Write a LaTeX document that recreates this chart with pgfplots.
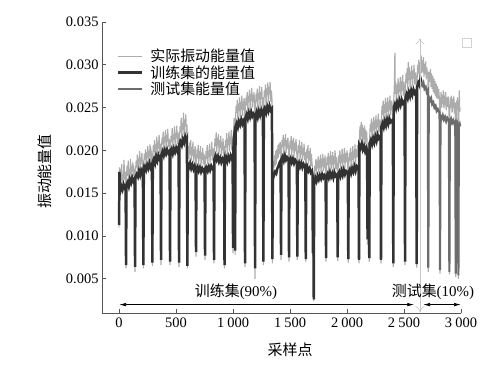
\documentclass[border=0pt]{standalone}
\usepackage{pgfplots}
\pgfplotsset{compat=1.18}
\usepackage{pgfplotstable}
\usetikzlibrary{arrows.meta}
\usepackage{fontspec}
\setmainfont{Liberation Serif}
\newfontfamily\cjk{Noto Sans CJK SC}
\definecolor{actualc}{RGB}{172,172,172}
\definecolor{trainc}{RGB}{50,50,50}
\definecolor{testc}{RGB}{108,108,108}
\definecolor{axc}{RGB}{85,85,85}

\pgfplotstableread{
x y
0 0.0110
3 0.0180
8 0.0160
13 0.0178
18 0.0165
23 0.0184
28 0.0158
33 0.0172
38 0.0163
43 0.0189
48 0.0166
53 0.0175
57 0.0170
61 0.0062
65 0.0168
70 0.0182
75 0.0170
80 0.0188
85 0.0163
90 0.0178
95 0.0172
100 0.0190
105 0.0168
110 0.0181
115 0.0175
120 0.0186
125 0.0170
131 0.0178
136 0.0174
140 0.0058
144 0.0176
150 0.0188
155 0.0180
160 0.0195
165 0.0174
170 0.0190
175 0.0184
180 0.0199
185 0.0178
190 0.0192
195 0.0186
200 0.0197
205 0.0180
209 0.0188
213 0.0062
217 0.0186
222 0.0196
227 0.0189
232 0.0201
237 0.0183
242 0.0198
247 0.0191
252 0.0205
257 0.0186
262 0.0199
267 0.0193
272 0.0207
277 0.0187
283 0.0197
288 0.0192
292 0.0065
296 0.0194
301 0.0206
306 0.0198
311 0.0212
316 0.0190
321 0.0207
326 0.0201
331 0.0216
336 0.0195
341 0.0209
346 0.0203
351 0.0218
356 0.0197
360 0.0208
364 0.0200
368 0.0066
372 0.0203
377 0.0215
382 0.0207
387 0.0222
392 0.0200
397 0.0216
402 0.0209
407 0.0224
412 0.0203
417 0.0218
422 0.0210
427 0.0225
432 0.0204
438 0.0214
443 0.0207
447 0.0066
451 0.0205
456 0.0217
461 0.0210
466 0.0226
471 0.0203
476 0.0219
481 0.0212
486 0.0228
491 0.0206
496 0.0220
501 0.0214
506 0.0229
511 0.0207
517 0.0221
522 0.0213
526 0.0064
530 0.0214
535 0.0228
540 0.0221
545 0.0238
550 0.0214
555 0.0232
560 0.0224
565 0.0244
570 0.0218
575 0.0236
580 0.0228
585 0.0242
590 0.0220
595 0.0230
599 0.0062
603 0.0192
608 0.0205
613 0.0190
618 0.0209
623 0.0195
628 0.0212
633 0.0188
638 0.0204
643 0.0194
648 0.0210
653 0.0186
658 0.0201
663 0.0192
667 0.0205
671 0.0188
675 0.0076
679 0.0186
684 0.0201
689 0.0191
694 0.0206
699 0.0184
704 0.0199
709 0.0190
714 0.0205
719 0.0183
724 0.0197
729 0.0189
734 0.0203
739 0.0184
745 0.0196
750 0.0187
754 0.0072
758 0.0185
763 0.0199
768 0.0190
773 0.0206
778 0.0184
783 0.0200
788 0.0192
793 0.0208
798 0.0186
803 0.0201
808 0.0194
813 0.0210
818 0.0188
824 0.0202
829 0.0193
833 0.0068
837 0.0200
842 0.0214
847 0.0205
852 0.0221
857 0.0198
862 0.0215
867 0.0206
872 0.0219
877 0.0196
882 0.0212
887 0.0203
892 0.0217
897 0.0194
902 0.0210
907 0.0200
912 0.0214
917 0.0196
921 0.0205
925 0.0062
929 0.0198
934 0.0212
939 0.0204
944 0.0220
949 0.0196
954 0.0214
959 0.0206
964 0.0222
969 0.0199
974 0.0216
979 0.0207
984 0.0224
989 0.0200
996 0.0210
1000 0.0080
1004 0.0222
1010 0.0238
1014 0.0226
1018 0.0078
1022 0.0238
1027 0.0252
1032 0.0244
1037 0.0259
1042 0.0236
1047 0.0255
1052 0.0246
1057 0.0262
1062 0.0239
1067 0.0256
1072 0.0248
1077 0.0264
1082 0.0240
1087 0.0257
1092 0.0247
1097 0.0261
1101 0.0242
1105 0.0064
1109 0.0248
1114 0.0262
1119 0.0253
1124 0.0268
1129 0.0246
1134 0.0264
1139 0.0256
1144 0.0271
1149 0.0248
1154 0.0266
1159 0.0258
1164 0.0273
1169 0.0250
1174 0.0265
1179 0.0256
1184 0.0268
1189 0.0250
1193 0.0050
1197 0.0250
1202 0.0266
1207 0.0257
1212 0.0272
1217 0.0248
1222 0.0267
1227 0.0259
1232 0.0275
1237 0.0251
1242 0.0268
1247 0.0260
1252 0.0274
1257 0.0252
1262 0.0262
1266 0.0066
1270 0.0256
1275 0.0270
1280 0.0262
1285 0.0277
1290 0.0254
1295 0.0272
1300 0.0265
1305 0.0279
1310 0.0256
1315 0.0274
1320 0.0266
1325 0.0280
1330 0.0257
1336 0.0270
1341 0.0260
1345 0.0068
1349 0.0172
1354 0.0188
1359 0.0180
1364 0.0194
1369 0.0182
1374 0.0199
1379 0.0184
1384 0.0201
1389 0.0190
1394 0.0206
1399 0.0192
1404 0.0208
1409 0.0196
1413 0.0210
1417 0.0198
1421 0.0072
1425 0.0199
1430 0.0212
1435 0.0204
1440 0.0218
1445 0.0196
1450 0.0214
1455 0.0205
1460 0.0219
1465 0.0197
1470 0.0212
1475 0.0202
1481 0.0215
1487 0.0198
1491 0.0070
1495 0.0197
1500 0.0211
1505 0.0202
1510 0.0217
1515 0.0194
1520 0.0212
1525 0.0200
1530 0.0215
1535 0.0193
1540 0.0209
1545 0.0199
1552 0.0213
1560 0.0195
1564 0.0072
1568 0.0192
1573 0.0206
1578 0.0197
1583 0.0212
1588 0.0189
1593 0.0205
1598 0.0195
1603 0.0210
1608 0.0188
1613 0.0203
1618 0.0194
1623 0.0208
1628 0.0189
1634 0.0198
1638 0.0070
1642 0.0186
1647 0.0201
1652 0.0191
1657 0.0206
1662 0.0184
1667 0.0199
1672 0.0188
1677 0.0203
1682 0.0182
1687 0.0196
1692 0.0186
1697 0.0180
1700 0.0076
1704 0.0158
1708 0.0024
1712 0.0165
1717 0.0182
1722 0.0176
1727 0.0190
1732 0.0172
1737 0.0188
1742 0.0179
1747 0.0193
1752 0.0174
1757 0.0189
1762 0.0180
1767 0.0195
1772 0.0175
1777 0.0190
1782 0.0181
1787 0.0196
1792 0.0176
1797 0.0191
1802 0.0180
1807 0.0194
1812 0.0176
1816 0.0070
1820 0.0178
1825 0.0192
1830 0.0183
1835 0.0197
1840 0.0176
1845 0.0193
1850 0.0184
1855 0.0199
1860 0.0177
1865 0.0194
1870 0.0183
1875 0.0198
1880 0.0176
1885 0.0193
1890 0.0184
1895 0.0200
1900 0.0178
1907 0.0192
1914 0.0180
1918 0.0071
1922 0.0180
1927 0.0194
1932 0.0185
1937 0.0200
1942 0.0178
1947 0.0195
1952 0.0186
1957 0.0202
1962 0.0179
1967 0.0196
1972 0.0187
1977 0.0203
1982 0.0180
1987 0.0197
1992 0.0186
2000 0.0200
2007 0.0182
2011 0.0069
2015 0.0183
2020 0.0197
2025 0.0188
2030 0.0203
2035 0.0181
2040 0.0198
2045 0.0189
2050 0.0205
2055 0.0183
2060 0.0200
2065 0.0191
2070 0.0207
2075 0.0184
2080 0.0201
2085 0.0192
2093 0.0206
2101 0.0188
2105 0.0068
2109 0.0214
2114 0.0228
2119 0.0212
2124 0.0233
2129 0.0216
2134 0.0230
2139 0.0209
2144 0.0226
2149 0.0213
2154 0.0229
2159 0.0207
2164 0.0224
2169 0.0211
2173 0.0222
2176 0.0205
2180 0.0090
2184 0.0195
2191 0.0210
2195 0.0070
2199 0.0216
2204 0.0231
2209 0.0222
2214 0.0237
2219 0.0215
2224 0.0233
2229 0.0223
2234 0.0239
2239 0.0217
2244 0.0235
2249 0.0225
2254 0.0241
2259 0.0219
2264 0.0236
2269 0.0227
2274 0.0243
2279 0.0221
2287 0.0236
2294 0.0225
2298 0.0068
2302 0.0236
2307 0.0252
2312 0.0242
2317 0.0258
2322 0.0235
2327 0.0254
2332 0.0244
2337 0.0261
2342 0.0237
2347 0.0256
2352 0.0245
2357 0.0262
2362 0.0239
2367 0.0257
2372 0.0247
2377 0.0264
2382 0.0241
2392 0.0258
2402 0.0244
2406 0.0064
2410 0.0258
2415 0.0275
2420 0.0314
2423 0.0266
2428 0.0280
2433 0.0258
2438 0.0277
2443 0.0266
2448 0.0284
2453 0.0260
2458 0.0279
2463 0.0268
2468 0.0286
2473 0.0262
2478 0.0281
2483 0.0270
2488 0.0288
2493 0.0264
2500 0.0280
2505 0.0268
2509 0.0066
2513 0.0272
2518 0.0290
2523 0.0279
2528 0.0296
2533 0.0271
2538 0.0303
2543 0.0282
2548 0.0297
2553 0.0274
2558 0.0292
2563 0.0283
2568 0.0299
2573 0.0275
2578 0.0293
2583 0.0284
2588 0.0300
2593 0.0277
2600 0.0291
2607 0.0280
2611 0.0063
2615 0.0284
2620 0.0300
2625 0.0290
2630 0.0306
2635 0.0286
2640 0.0303
2645 0.0294
2650 0.0311
2655 0.0290
2660 0.0305
2665 0.0292
2670 0.0309
2675 0.0286
2680 0.0301
2685 0.0289
2690 0.0304
2695 0.0283
2700 0.0297
2705 0.0285
2709 0.0292
2713 0.0058
2717 0.0276
2722 0.0292
2727 0.0280
2732 0.0295
2737 0.0274
2742 0.0290
2747 0.0272
2752 0.0287
2757 0.0268
2762 0.0284
2767 0.0266
2772 0.0281
2777 0.0263
2782 0.0278
2787 0.0261
2792 0.0275
2797 0.0260
2804 0.0272
2812 0.0257
2816 0.0056
2820 0.0252
2825 0.0268
2830 0.0250
2835 0.0265
2840 0.0254
2845 0.0270
2850 0.0249
2855 0.0264
2860 0.0253
2865 0.0268
2870 0.0247
2875 0.0262
2880 0.0251
2887 0.0263
2894 0.0248
2898 0.0055
2902 0.0246
2907 0.0262
2912 0.0250
2917 0.0264
2922 0.0244
2927 0.0260
2932 0.0249
2937 0.0263
2942 0.0243
2947 0.0256
2950 0.0246
2954 0.0052
2958 0.0244
2962 0.0258
2966 0.0247
2970 0.0262
2973 0.0244
2977 0.0050
2981 0.0243
2985 0.0270
2988 0.0245
2992 0.0250
}\actual

\pgfplotstableread{
x y
0 0.0113
3 0.0175
10 0.0152
20 0.0158
30 0.0154
40 0.0160
50 0.0156
57 0.0158
61 0.0066
65 0.0160
75 0.0163
85 0.0158
95 0.0166
105 0.0162
115 0.0168
125 0.0164
136 0.0167
140 0.0064
144 0.0168
155 0.0172
165 0.0169
175 0.0176
185 0.0171
195 0.0177
205 0.0174
209 0.0176
213 0.0066
217 0.0178
227 0.0181
237 0.0177
247 0.0183
257 0.0179
267 0.0185
277 0.0180
288 0.0184
292 0.0069
296 0.0186
306 0.0190
316 0.0185
326 0.0193
336 0.0188
346 0.0194
356 0.0190
364 0.0192
368 0.0072
372 0.0195
382 0.0199
392 0.0194
402 0.0200
412 0.0196
422 0.0201
432 0.0197
443 0.0199
447 0.0070
451 0.0197
461 0.0201
471 0.0196
481 0.0202
491 0.0198
501 0.0203
511 0.0199
522 0.0204
526 0.0069
530 0.0206
540 0.0210
550 0.0206
560 0.0213
570 0.0209
580 0.0216
590 0.0211
595 0.0213
599 0.0065
603 0.0184
613 0.0180
623 0.0185
633 0.0179
643 0.0183
653 0.0178
663 0.0182
671 0.0179
675 0.0081
679 0.0178
689 0.0181
699 0.0176
709 0.0180
719 0.0175
729 0.0179
739 0.0176
750 0.0178
754 0.0077
758 0.0177
768 0.0180
778 0.0176
788 0.0181
798 0.0177
808 0.0182
818 0.0179
829 0.0181
833 0.0072
837 0.0190
847 0.0194
857 0.0189
867 0.0193
877 0.0187
887 0.0191
897 0.0186
907 0.0190
917 0.0187
921 0.0189
925 0.0066
929 0.0189
939 0.0192
949 0.0187
959 0.0193
969 0.0189
979 0.0194
989 0.0190
996 0.0193
1000 0.0086
1004 0.0212
1010 0.0218
1014 0.0215
1018 0.0083
1022 0.0228
1032 0.0232
1042 0.0227
1052 0.0234
1062 0.0230
1072 0.0236
1082 0.0231
1092 0.0235
1101 0.0233
1105 0.0068
1109 0.0238
1119 0.0242
1129 0.0237
1139 0.0244
1149 0.0239
1159 0.0245
1169 0.0240
1179 0.0243
1189 0.0241
1193 0.0062
1197 0.0240
1207 0.0245
1217 0.0239
1227 0.0246
1237 0.0241
1247 0.0247
1257 0.0242
1262 0.0244
1266 0.0070
1270 0.0245
1280 0.0249
1290 0.0244
1300 0.0251
1310 0.0246
1320 0.0252
1330 0.0247
1341 0.0249
1345 0.0073
1349 0.0166
1359 0.0171
1369 0.0175
1379 0.0173
1389 0.0179
1399 0.0182
1409 0.0186
1417 0.0188
1421 0.0078
1425 0.0190
1435 0.0193
1445 0.0188
1455 0.0194
1465 0.0189
1475 0.0192
1487 0.0190
1491 0.0075
1495 0.0188
1505 0.0191
1515 0.0186
1525 0.0190
1535 0.0185
1545 0.0189
1560 0.0186
1564 0.0076
1568 0.0183
1578 0.0186
1588 0.0181
1598 0.0185
1608 0.0180
1618 0.0184
1628 0.0181
1634 0.0182
1638 0.0073
1642 0.0178
1652 0.0181
1662 0.0176
1672 0.0179
1682 0.0174
1692 0.0176
1697 0.0172
1700 0.0080
1704 0.0150
1708 0.0026
1712 0.0160
1722 0.0168
1732 0.0164
1742 0.0170
1752 0.0166
1762 0.0171
1772 0.0167
1782 0.0172
1792 0.0168
1802 0.0171
1812 0.0169
1816 0.0074
1820 0.0170
1830 0.0173
1840 0.0168
1850 0.0174
1860 0.0169
1870 0.0173
1880 0.0168
1890 0.0174
1900 0.0170
1914 0.0172
1918 0.0075
1922 0.0172
1932 0.0175
1942 0.0170
1952 0.0176
1962 0.0171
1972 0.0177
1982 0.0172
1992 0.0176
2007 0.0174
2011 0.0073
2015 0.0175
2025 0.0178
2035 0.0173
2045 0.0179
2055 0.0175
2065 0.0181
2075 0.0176
2085 0.0182
2101 0.0180
2105 0.0072
2109 0.0206
2119 0.0203
2129 0.0208
2139 0.0201
2149 0.0205
2159 0.0199
2169 0.0203
2176 0.0200
2180 0.0096
2184 0.0190
2191 0.0195
2195 0.0074
2199 0.0208
2209 0.0212
2219 0.0207
2229 0.0214
2239 0.0209
2249 0.0216
2259 0.0211
2269 0.0218
2279 0.0214
2294 0.0217
2298 0.0072
2302 0.0228
2312 0.0232
2322 0.0227
2332 0.0234
2342 0.0229
2352 0.0236
2362 0.0231
2372 0.0237
2382 0.0233
2402 0.0236
2406 0.0068
2410 0.0250
2420 0.0254
2430 0.0249
2440 0.0256
2450 0.0251
2460 0.0258
2470 0.0253
2480 0.0259
2490 0.0255
2505 0.0258
2509 0.0070
2513 0.0262
2523 0.0266
2533 0.0261
2543 0.0268
2553 0.0263
2563 0.0270
2573 0.0265
2583 0.0271
2593 0.0267
2607 0.0270
2611 0.0067
2615 0.0274
2625 0.0279
2635 0.0276
2645 0.0284
2652 0.0280
}\train

\pgfplotstableread{
x y
2650 0.0280
2660 0.0276
2670 0.0279
2680 0.0272
2690 0.0274
2700 0.0268
2709 0.0270
2713 0.0063
2717 0.0262
2727 0.0258
2737 0.0261
2747 0.0254
2757 0.0256
2767 0.0250
2777 0.0252
2787 0.0246
2797 0.0248
2812 0.0244
2816 0.0060
2820 0.0240
2830 0.0237
2840 0.0241
2850 0.0236
2860 0.0239
2870 0.0234
2880 0.0238
2894 0.0235
2898 0.0058
2902 0.0234
2912 0.0237
2922 0.0232
2932 0.0235
2942 0.0231
2950 0.0233
2954 0.0056
2958 0.0231
2966 0.0233
2973 0.0230
2977 0.0054
2981 0.0229
2988 0.0231
2992 0.0228
}\test

\begin{document}
\begin{tikzpicture}
\path[use as bounding box] (0,0) rectangle (491bp,377bp);
\begin{axis}[
  at={(102bp,64bp)}, anchor=south west,
  scale only axis, width=359bp, height=291bp,
  xmin=-150, xmax=3000, ymin=0.001, ymax=0.035,
  axis x line=bottom, axis y line=left,
  axis line style={-, draw=axc, line width=0.8pt},
  every tick/.style={draw=axc, line width=0.8pt},
  tick align=inside, major tick length=4bp,
  xtick={0,500,1000,1500,2000,2500,3000},
  ytick={0.005,0.010,0.015,0.020,0.025,0.030,0.035},
  scaled y ticks=false, scaled x ticks=false,
  /pgf/number format/assume math mode=true,
  x tick label style={/pgf/number format/1000 sep={\hspace{0.22em}}, /pgf/number format/int detect, yshift=-1bp},
  y tick label style={/pgf/number format/fixed, /pgf/number format/fixed zerofill, /pgf/number format/precision=3},
  tick label style={font=\fontsize{14.5}{16}\selectfont},
  xlabel={\cjk 采样点},
  ylabel={\cjk 振动能量值},
  label style={font=\fontsize{15}{17}\selectfont},
  x label style={at={(axis description cs:0.524,0)}, anchor=center, yshift=-37bp},
  y label style={at={(axis description cs:0,0.486)}, anchor=center, yshift=57bp},
  clip=false,
  legend style={at={(axis description cs:0.041,0.914)}, anchor=north west,
    draw=none, fill=none, font=\cjk\fontsize{15}{17}\selectfont,
    row sep=-1.7bp, inner sep=0pt,
    /tikz/every odd column/.append style={column sep=5bp}},
  legend cell align=left,
  legend image code/.code={\draw[#1] (0bp,0bp) -- (24bp,0bp);},
]
\addplot[actualc, line width=1.2pt] table[x=x,y=y] {\actual};
\addlegendentry{实际振动能量值}
\addplot[trainc, line width=2.5pt] table[x=x,y=y] {\train};
\addlegendentry{训练集的能量值}
\addplot[testc, line width=2.2pt] table[x=x,y=y] {\test};
\addlegendentry{测试集能量值}

\draw[gray!45, line width=0.6pt, {To[length=6bp,width=9bp]}-{To[length=6bp,width=9bp]}] (axis cs:2640,0.0011) -- (axis cs:2640,0.0331);
\draw[black, line width=0.7pt, {Latex[length=7bp,width=3.5bp]}-{Latex[length=7bp,width=3.5bp]}] (axis cs:0,0.00198) -- (axis cs:2590,0.00198);
\draw[black, line width=0.7pt, {Latex[length=7bp,width=3.5bp]}-{Latex[length=7bp,width=3.5bp]}] (axis cs:2667,0.00198) -- (axis cs:3000,0.00198);
\node[font=\fontsize{15}{17}\selectfont, inner sep=0pt] at (axis cs:1026,0.00348) {{\cjk 训练集}(90\%)};
\node[font=\fontsize{15}{17}\selectfont, inner sep=0pt] at (axis cs:2754,0.00348) {{\cjk 测试集}(10\%)};
\draw[gray!35, line width=0.8pt] (axis description cs:1.005,0.913) rectangle (axis description cs:1.030,0.942);
\end{axis}
\end{tikzpicture}
\end{document}
